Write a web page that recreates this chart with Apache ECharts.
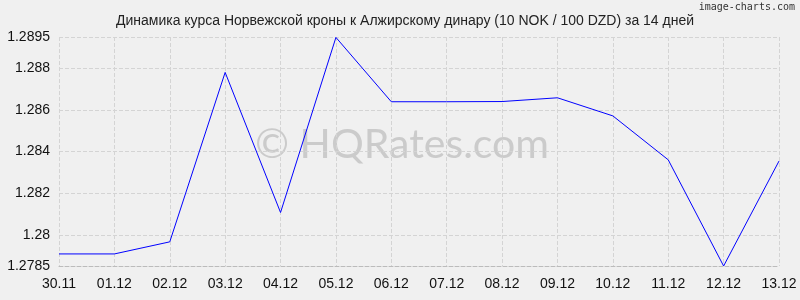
<!DOCTYPE html>
<html>
<head>
<meta charset="utf-8">
<style>html,body{margin:0;padding:0;background:#f0f0f0;}#c{width:800px;height:300px;}</style>
<script src="https://cdn.jsdelivr.net/npm/echarts@6/dist/echarts.min.js"></script>
</head>
<body>
<div id="c"></div>
<script>
const categories = ['30.11','01.12','02.12','03.12','04.12','05.12','06.12','07.12','08.12','09.12','10.12','11.12','12.12','13.12'];
const rates = [1.27908,1.27908,1.27966,1.2878,1.28107,1.28948,1.28639,1.28639,1.2864,1.28658,1.28571,1.2836,1.2785,1.28354];
const yTicks = [1.2785,1.28,1.282,1.284,1.286,1.288,1.2895];
const titleText = 'Динамика курса Норвежской кроны к Алжирскому динару (10 NOK / 100 DZD) за 14 дней';

const chart = echarts.init(document.getElementById('c'), null, {renderer:'canvas'});
chart.setOption({
  backgroundColor:'#f0f0f0',
  animation:false,
  title:{text:titleText,left:400,top:9,textAlign:'center',
    textStyle:{fontFamily:'Liberation Sans, Arial',fontSize:14,fontWeight:'normal',color:'#222'}},
  graphic:[
    {type:'text',right:5,top:2,style:{text:'image-charts.com',font:'10px DejaVu Sans Mono, monospace',fill:'#333'}},
    {type:'text',left:255,top:124,z:0,silent:true,style:{text:'© HQRates.com',font:'41px Lato, sans-serif',fill:'#cbcbcb'}}
  ],
  grid:{left:59,right:21,top:37,bottom:34,containLabel:false},
  xAxis:{type:'category',data:categories,boundaryGap:false,
    axisLine:{show:true,lineStyle:{color:'#bbb',type:'dashed'}},
    axisTick:{show:false},
    axisLabel:{color:'#111',fontFamily:'Liberation Sans, Arial',fontSize:14,margin:11,interval:0},
    splitLine:{show:true,lineStyle:{color:'#d4d4d4',type:'dashed'}}},
  yAxis:{type:'value',min:1.2785,max:1.2895,
    axisLine:{show:false},axisTick:{show:false,customValues:yTicks},
    axisLabel:{customValues:yTicks,color:'#111',fontFamily:'Liberation Sans, Arial',fontSize:14,margin:9,
      formatter:v=>String(+v.toFixed(4))},
    splitLine:{show:true,lineStyle:{color:'#d4d4d4',type:'dashed'}}},
  series:[{type:'line',data:rates,symbol:'none',z:5,lineStyle:{color:'#0000ff',width:1}}]
});
</script>
</body>
</html>
